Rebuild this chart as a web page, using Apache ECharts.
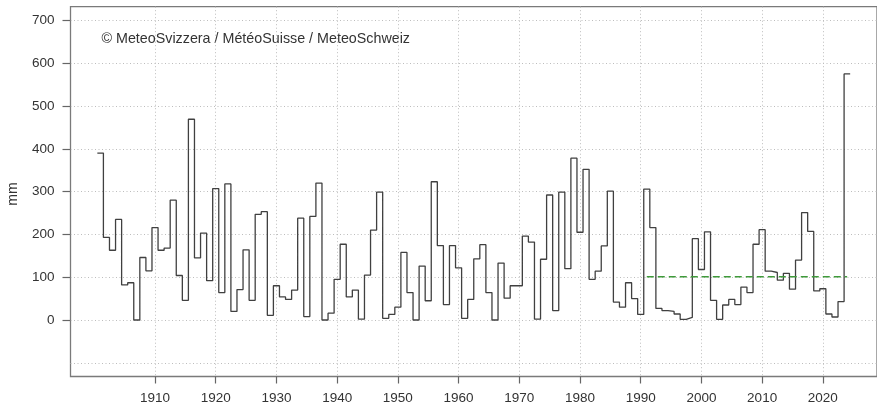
<!DOCTYPE html>
<html>
<head>
<meta charset="utf-8">
<script src="https://cdn.jsdelivr.net/npm/echarts@6/dist/echarts.min.js"></script>
<style>
  html, body { margin: 0; padding: 0; background: #ffffff; }
  #chart { width: 877px; height: 410px; }
</style>
</head>
<body>
<div id="chart"></div>
<script>
// ---- data ----
const years = [];
for (let y = 1901; y <= 2024; y++) years.push(y);

const values = [
  390, 193, 163, 235, 82, 87, 0, 146, 115, 216,      // 1901-1910
  163, 168, 280, 104, 46, 469, 145, 203, 92, 307,    // 1911-1920
  64, 318, 20, 71, 164, 46, 247, 253, 11, 80,        // 1921-1930
  54, 48, 70, 238, 8, 242, 320, 0, 16, 95,           // 1931-1940
  177, 54, 70, 2, 105, 210, 299, 4, 13, 30,          // 1941-1950
  158, 64, 0, 126, 45, 323, 174, 36, 174, 122,       // 1951-1960
  4, 48, 143, 176, 64, 0, 133, 51, 80, 80,           // 1961-1970
  196, 182, 2, 142, 292, 22, 299, 120, 378, 205,     // 1971-1980
  352, 95, 114, 173, 301, 42, 30, 87, 50, 13,        // 1981-1990
  306, 216, 27, 22, 20, 14, 1.5, 6, 190, 118,        // 1991-2000
  206, 46, 1.5, 35, 48, 36, 77, 64, 177, 211,        // 2001-2010
  114, 111, 93, 109, 72, 140, 251, 207, 68, 73,      // 2011-2020
  14, 7, 43, 575                                     // 2021-2024
];

const normStart = 1991;
const normEnd = 2024;
const normValue = 101;

const xTickValues = [1910, 1920, 1930, 1940, 1950, 1960, 1970, 1980, 1990, 2000, 2010, 2020];
const yLabelValues = [0, 100, 200, 300, 400, 500, 600, 700];
const yGridValues = [-100, 0, 100, 200, 300, 400, 500, 600, 700];

const xMin = 1896.08, xMax = 2028.92;
const yMin = -132, yMax = 732;

// step data: each year's value spans [year-0.5, year+0.5]
const stepData = years.map((y, i) => [y - 0.5, values[i]]);
stepData.push([years[years.length - 1] + 0.5, values[values.length - 1]]);

const FONT = '"Liberation Sans", Arial, Helvetica, sans-serif';
const TXT = '#333333';

const chart = echarts.init(document.getElementById('chart'), null, { renderer: 'canvas' });
chart.setOption({
  animation: false,
  backgroundColor: '#ffffff',
  grid: {
    left: 70.5, top: 6.7, width: 808.5, height: 369.8,
    show: true, borderColor: '#7a7a7a', borderWidth: 1.3, backgroundColor: '#ffffff',
    containLabel: false
  },
  xAxis: {
    type: 'value', min: xMin, max: xMax, position: 'bottom',
    axisLine: { show: false, onZero: false },
    axisTick: { show: true, customValues: xTickValues, length: 7, lineStyle: { color: '#666', width: 1.2 } },
    axisLabel: { show: true, customValues: xTickValues, margin: 15, color: TXT, fontSize: 13.5, fontFamily: FONT,
                 formatter: v => String(v) },
    splitLine: { show: true, lineStyle: { color: '#bdbdbd', width: 1, type: [1, 2.5] } }
  },
  yAxis: [
    {
      type: 'value', min: yMin, max: yMax, position: 'left',
      axisLine: { show: false, onZero: false },
      axisTick: { show: true, customValues: yLabelValues, length: 8, lineStyle: { color: '#666', width: 1.2 } },
      axisLabel: { show: true, customValues: yLabelValues, margin: 16, color: TXT, fontSize: 13.5, fontFamily: FONT,
                   formatter: v => String(v) },
      splitLine: { show: false }
    },
    {
      type: 'value', min: yMin, max: yMax, position: 'left',
      axisLine: { show: false, onZero: false },
      axisTick: { show: false, customValues: yGridValues },
      axisLabel: { show: false },
      splitLine: { show: true, lineStyle: { color: '#bdbdbd', width: 1, type: [1, 2.5] } }
    }
  ],
  graphic: [
    {
      type: 'text', x: 101.5, y: 39.5,
      style: { text: '© MeteoSvizzera / MétéoSuisse / MeteoSchweiz', fill: TXT,
               font: '14.3px ' + FONT, align: 'left', verticalAlign: 'middle',
               textAlign: 'left', textVerticalAlign: 'middle' }
    },
    {
      type: 'text', x: 13.5, y: 194, rotation: Math.PI / 2,
      style: { text: 'mm', fill: TXT, font: '14px ' + FONT, align: 'center', verticalAlign: 'middle',
               textAlign: 'center', textVerticalAlign: 'middle' }
    }
  ],
  series: [
    {
      type: 'line', step: 'end', data: stepData, symbol: 'none',
      lineStyle: { color: '#404040', width: 1.3 }, z: 3
    },
    {
      type: 'line', data: [[normStart, normValue], [normEnd, normValue]], symbol: 'none',
      lineStyle: { color: '#3f9a3a', width: 1.6, type: [7, 4] }, z: 4
    }
  ]
});
</script>
</body>
</html>
